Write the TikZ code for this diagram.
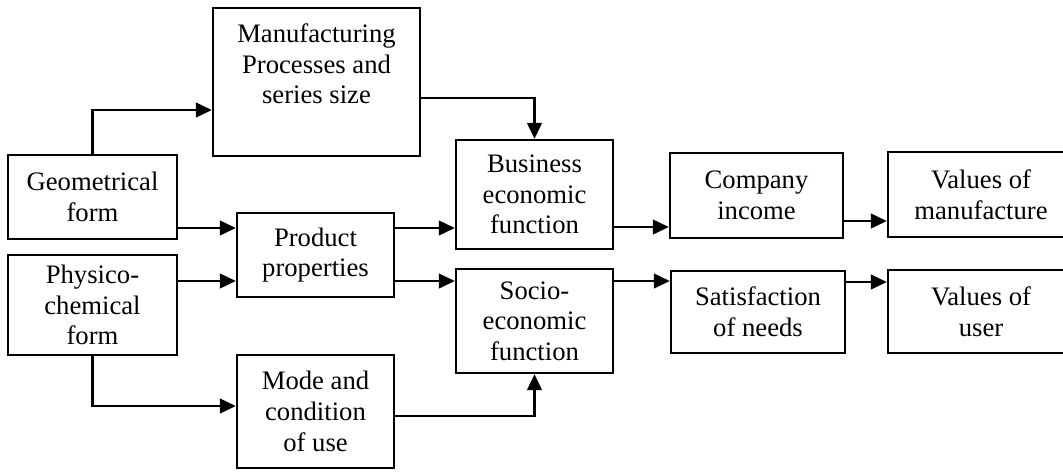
\documentclass[tikz,border=0pt]{standalone}
\usepackage{fontspec}
\setmainfont{Liberation Serif}
\usetikzlibrary{arrows.meta}

\newdimen\px \px=0.75pt
\tikzset{every picture/.style={line width=1.5pt}}
\tikzset{
  box/.style={draw, line width=1.8pt, inner sep=2pt, align=center,
    font=\fontsize{20}{23}\selectfont},
  flow/.style={line width=1.8pt, -{Triangle[length=12pt,width=11pt]}}
}

\begin{document}
\begin{tikzpicture}[x=0.75pt,y=0.75pt,yscale=-1,xscale=1]
\useasboundingbox (0,0) rectangle (1063,472);
\clip (0,0) rectangle (1063,472);

%Shape: left column
\node[box, minimum width=169\px, minimum height=84\px] (geo) at (92.5,197) {Geometrical\\form};
\node[box, minimum width=169\px, minimum height=100\px] (phy) at (92.5,305) {Physico-\\chemical\\form};

%Shape: second column
\node[box, minimum width=207\px, minimum height=148\px] (mfg) at (316.5,82) {};
\node[align=center, anchor=north, inner sep=2pt, font=\fontsize{20}{23}\selectfont] (mfgtxt) at ([yshift=10pt]mfg.north) {Manufacturing\\Processes and\\series size};
\node[box, minimum width=157\px, minimum height=84\px] (prod) at (315.5,255) {Product\\properties};
\node[box, minimum width=157\px, minimum height=113\px] (mode) at (315.5,411.5) {Mode and\\condition\\of use};

%Shape: functions
\node[box, minimum width=157\px, minimum height=109\px] (bus) at (534.5,194.5) {Business\\economic\\function};
\node[box, minimum width=157\px, minimum height=104\px] (soc) at (534.5,321) {Socio-\\economic\\function};

%Shape: results
\node[box, minimum width=173\px, minimum height=85\px] (inc) at (756.5,195.5) {Company\\income};
\node[box, minimum width=174\px, minimum height=82\px] (sat) at (758,312) {Satisfaction\\of needs};
\node[box, minimum width=186\px, minimum height=85\px] (vman) at (981,194.5) {Values of\\manufacture};
\node[box, minimum width=186\px, minimum height=83\px] (vuse) at (981,311.5) {Values of\\user};

%Straight Lines
\draw[flow] (geo.north) |- (mfg.west |- 0,110);
\draw[flow] (mfg.east |- 0,98) -| (bus.north);
\draw[flow] (geo.east |- 0,228) -- (prod.west |- 0,228);
\draw[flow] (phy.east |- 0,281) -- (prod.west |- 0,281);
\draw[flow] (prod.east |- 0,228) -- (bus.west |- 0,228);
\draw[flow] (prod.east |- 0,281) -- (soc.west |- 0,281);
\draw[flow] (phy.south) |- (mode.west |- 0,406);
\draw[flow] (mode.east |- 0,416) -| (soc.south);
\draw[flow] (bus.east |- 0,227) -- (inc.west |- 0,227);
\draw[flow] (inc.east |- 0,221) -- (vman.west |- 0,221);
\draw[flow] (soc.east |- 0,281) -- (sat.west |- 0,281);
\draw[flow] (sat.east |- 0,282) -- (vuse.west |- 0,282);

\end{tikzpicture}
\end{document}
